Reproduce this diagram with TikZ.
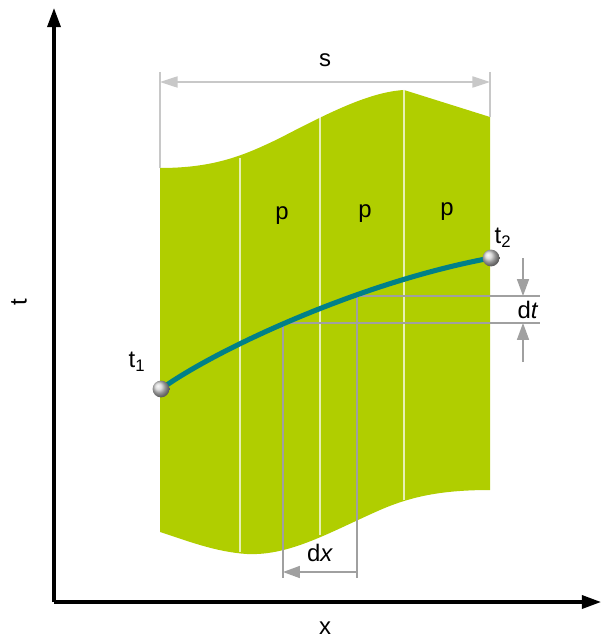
\documentclass[tikz,border=0pt]{standalone}
\usepackage{fontspec}
\setmainfont{Liberation Sans}
\usetikzlibrary{arrows.meta,positioning,calc}
\definecolor{fieldGreen}{RGB}{176,206,0}
\definecolor{pathTeal}{RGB}{0,128,136}
\definecolor{dimGray}{RGB}{160,160,160}
\definecolor{extGray}{RGB}{200,200,200}
\tikzset{
  axis/.style={line width=2.2pt, -{Triangle[length=4.8mm,width=3.3mm]}},
  dimline/.style={draw=dimGray, line width=0.9pt},
  dimarrow/.style={dimline, -{Triangle[length=4.2mm,width=3mm]}},
  sarrow/.style={draw=extGray, line width=0.9pt, {Triangle[length=4.4mm,width=2.8mm]}-{Triangle[length=4.4mm,width=2.8mm]}},
  strip/.style={draw=white, draw opacity=0.7, line width=0.8pt},
  label/.style={font=\fontsize{17}{20}\selectfont, inner sep=0pt},
  endpoint/.style={circle, minimum size=4.2mm, inner sep=0pt, shading=ball, ball color=gray!35}
}
\begin{document}
\begin{tikzpicture}[x=0.25mm, y=-0.25mm]
\useasboundingbox (0,0) rectangle (603,641);
% axes
\coordinate (origin) at (54,602);
\coordinate (tTop) at (54,8);
\coordinate (xEnd) at (601,602);
\draw[axis] (origin) -- (tTop);
\draw[axis] (origin) -- (xEnd);
\node[label, rotate=90] (lblT) at (19,302) {t};
\node[label] (lblX) at (325,628) {x};

% green field
\fill[fieldGreen] (160,168) .. controls (215,168) and (245,155) .. (280,138)
  .. controls (330,112) and (370,92) .. (404,90) -- (490,117) -- (490,490)
  .. controls (440,490) and (410,497) .. (380,510)
  .. controls (330,532) and (290,556) .. (247,554)
  .. controls (215,552) and (185,540) .. (160,532) -- cycle;
\draw[strip] (240,158) -- (240,552);
\draw[strip] (320,117) -- (320,535);
\draw[strip] (404,90) -- (404,500);
\node[label] (p1) at (282,216) {p};
\node[label] (p2) at (365,214) {p};
\node[label] (p3) at (447,212) {p};

% width s
\coordinate (sL) at (160,82);
\coordinate (sR) at (490,82);
\draw[draw=extGray, line width=0.8pt] (160,72) -- (160,168);
\draw[draw=extGray, line width=0.8pt] (490,72) -- (490,117);
\draw[sarrow] (sL) -- (sR);
\node[label] (lblS) at (325,60) {s};

% curve points
\coordinate (a) at (161,389);
\coordinate (b) at (283,323);
\coordinate (c) at (357,296);
\coordinate (e) at (491,258);

% dt and dx construction
\coordinate (bR) at (540,323);
\coordinate (cR) at (540,296);
\coordinate (bD) at (283,578);
\coordinate (cD) at (357,578);
\draw[dimline] (b) -- (bR);
\draw[dimline] (c) -- (cR);
\draw[dimline] (b) -- (bD);
\draw[dimline] (c) -- (cD);
\coordinate (dtTop) at (523,258);
\coordinate (dtBot) at (523,362);
\draw[dimarrow] (dtTop) -- (523,296);
\draw[dimarrow] (dtBot) -- (523,323);
\node[label] (lblDt) at (528,310) {d\textit{t}};
\draw[dimarrow, {Triangle[length=4.2mm,width=3mm]}-] ($(bD)+(0,-6)$) -- ($(cD)+(0,-6)$);
\node[label] (lblDx) at (320,553) {d\textit{x}};

% path t1 -> t2
\draw[pathTeal, line width=3.6pt] (a) .. controls (215,350) and (360,282) .. (e);
\node[endpoint] (t1) at (a) {};
\node[endpoint] (t2) at (e) {};
\node[label] (lblTa) at (137,362) {t\textsubscript{1}};
\node[label] (lblTb) at (503,238) {t\textsubscript{2}};
\end{tikzpicture}
\end{document}
